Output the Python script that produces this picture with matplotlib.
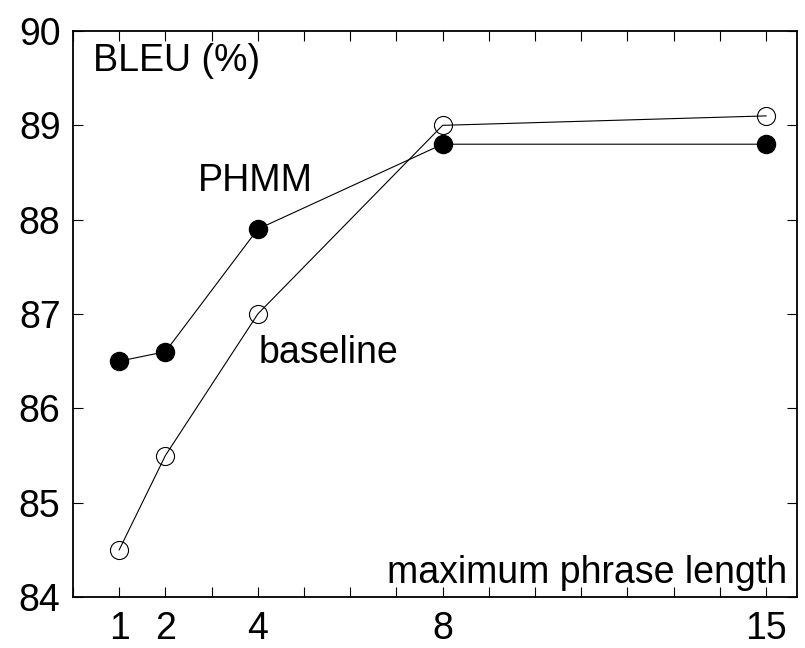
import matplotlib
matplotlib.use("Agg")
import matplotlib.pyplot as plt
from matplotlib.ticker import MultipleLocator, FixedLocator

plt.rcParams["font.family"] = ["Liberation Sans", "DejaVu Sans"]

phrase_len = [1, 2, 4, 8, 15]
bleu_phmm = [86.5, 86.6, 87.9, 88.8, 88.8]
bleu_base = [84.5, 85.5, 87.0, 89.0, 89.1]
x_ticks = [1, 2, 4, 8, 15]
y_ticks = [84, 85, 86, 87, 88, 89, 90]

FS = 27

fig = plt.figure(figsize=(8.05, 6.48), dpi=100)
ax = fig.add_axes([73 / 805, 1 - 597 / 648, 724 / 805, 566 / 648])

ax.plot(phrase_len, bleu_phmm, "-", color="black", linewidth=0.8,
        marker="o", markersize=13, markerfacecolor="black",
        markeredgecolor="black")
ax.plot(phrase_len, bleu_base, "-", color="black", linewidth=0.8,
        marker="o", markersize=13, markerfacecolor="none",
        markeredgecolor="black", markeredgewidth=0.8)

ax.set_xlim(0, 15.67)
ax.set_ylim(84, 90)
ax.xaxis.set_major_locator(FixedLocator(x_ticks))
ax.xaxis.set_minor_locator(MultipleLocator(1))
ax.set_yticks(y_ticks)
ax.tick_params(axis="both", which="both", direction="in", top=True,
               right=True, labelsize=FS, width=0.8)
ax.tick_params(axis="both", which="major", length=7)
ax.tick_params(axis="x", which="minor", length=7)
ax.tick_params(axis="y", which="major", pad=9)
ax.tick_params(axis="x", which="major", pad=10)
for s in ax.spines.values():
    s.set_linewidth(1.3)

ax.text(0.43, 89.68, "BLEU (%)", fontsize=FS, ha="left", va="center")
ax.text(3.94, 88.41, "PHMM", fontsize=FS, ha="center", va="center")
ax.text(5.52, 86.59, "baseline", fontsize=FS, ha="center", va="center")
ax.text(15.45, 84.25, "maximum phrase length", fontsize=FS,
        ha="right", va="center")

fig.savefig("out.png", dpi=100)
